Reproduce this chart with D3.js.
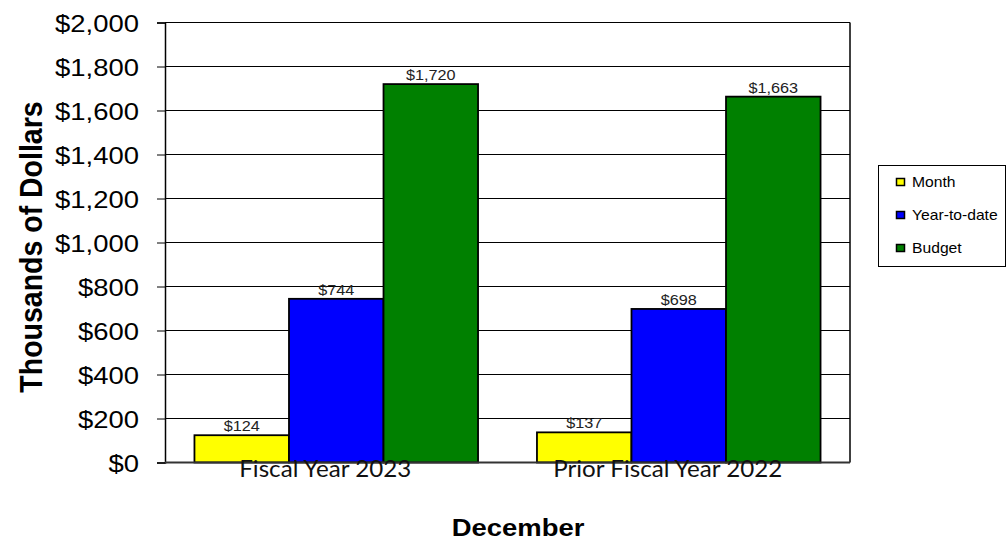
<!DOCTYPE html>
<html>
<head>
<meta charset="utf-8">
<script src="https://cdn.jsdelivr.net/npm/d3@7/dist/d3.min.js"></script>
<style>
  html, body { margin: 0; padding: 0; background: #fff; }
  svg { display: block; }
  text { fill: #000; }
</style>
</head>
<body>
<svg id="chart" width="1007" height="544"></svg>
<script>
// Revenue summary for December, in thousands of dollars
const categories = ["Fiscal Year 2023", "Prior Fiscal Year 2022"];
const seriesNames = ["Month", "Year-to-date", "Budget"];
const seriesColors = ["#FFFF00", "#0000FF", "#008000"];
const monthValues = [124, 137];
const ytdValues = [744, 698];
const budgetValues = [1720, 1663];
const tickValues = [0, 200, 400, 600, 800, 1000, 1200, 1400, 1600, 1800, 2000];
const tickLabels = ["$0", "$200", "$400", "$600", "$800", "$1,000", "$1,200", "$1,400", "$1,600", "$1,800", "$2,000"];

const seriesValues = [monthValues, ytdValues, budgetValues];
const rows = categories.map((c, i) => ({
  category: c,
  values: seriesNames.map((s, j) => ({ series: s, value: seriesValues[j][i], color: seriesColors[j] }))
}));

const svg = d3.select("#chart");
const plot = { left: 165, right: 850, top: 22.5, bottom: 462.5 };
const SX = 1.12; // wide lettering

const x0 = d3.scaleBand().domain(categories).range([plot.left, plot.right])
  .paddingInner(0.172).paddingOuter(0.086);
const x1 = d3.scaleBand().domain(seriesNames).range([0, x0.bandwidth()]);
const y = d3.scaleLinear().domain([0, 2000]).range([plot.bottom, plot.top]);

function wide(sel, tx, ty, extra, sx) {
  sel.attr("transform", `translate(${tx},${ty}) scale(${sx || SX},1)` + (extra || ""));
}

// horizontal gridlines
svg.append("g").selectAll("line").data(tickValues).join("line")
  .attr("x1", plot.left).attr("x2", plot.right)
  .attr("y1", d => y(d)).attr("y2", d => y(d))
  .attr("stroke", "#000").attr("stroke-width", 1);

// right frame edge
svg.append("line")
  .attr("x1", plot.right).attr("x2", plot.right)
  .attr("y1", plot.top).attr("y2", plot.bottom)
  .attr("stroke", "#000").attr("stroke-width", 1.5);

// bars
const groups = svg.append("g").selectAll("g").data(rows).join("g")
  .attr("transform", d => `translate(${x0(d.category)},0)`);

groups.selectAll("rect").data(d => d.values).join("rect")
  .attr("x", d => x1(d.series))
  .attr("y", d => y(d.value))
  .attr("width", x1.bandwidth())
  .attr("height", d => y(0) - y(d.value))
  .attr("fill", d => d.color)
  .attr("stroke", "#000").attr("stroke-width", 1.8);

// value labels
groups.selectAll("text.val").data(d => d.values).join("text")
  .attr("class", "val")
  .attr("text-anchor", "middle")
  .style("font-family", "'Liberation Sans', Arial, sans-serif")
  .style("font-size", "14.5px")
  .style("fill", "#222")
  .text(d => "$" + d3.format(",")(d.value))
  .each(function (d) {
    wide(d3.select(this), x1(d.series) + x1.bandwidth() / 2, y(d.value) - 4);
  });

// y axis
const yAxis = svg.append("g")
  .attr("transform", `translate(${plot.left},0)`)
  .call(d3.axisLeft(y).tickValues(tickValues).tickSize(8)
    .tickFormat((d, i) => tickLabels[i]));
yAxis.select(".domain").attr("stroke", "#000").attr("stroke-width", 1.5);
yAxis.selectAll(".tick line").attr("stroke", "#000");
yAxis.selectAll(".tick text")
  .attr("x", null).attr("dy", "0.36em")
  .style("font-family", "'Liberation Sans', Arial, sans-serif")
  .style("font-size", "24.5px")
  .attr("fill", "#000")
  .attr("transform", `translate(-26,0) scale(${SX},1)`);

// x axis baseline
svg.append("line")
  .attr("x1", plot.left).attr("x2", plot.right)
  .attr("y1", plot.bottom).attr("y2", plot.bottom)
  .attr("stroke", "#333").attr("stroke-width", 2);

// category labels
svg.append("g").selectAll("text").data(categories).join("text")
  .attr("text-anchor", "middle")
  .style("font-family", "Lato, 'Open Sans', sans-serif")
  .style("font-size", "23px")
  .style("fill", "#111")
  .text(d => d)
  .each(function (d) {
    wide(d3.select(this), x0(d) + x0.bandwidth() / 2 - 11, 476.5, "", 1.05);
  });

// axis titles
const yTitle = svg.append("text")
  .attr("text-anchor", "middle")
  .style("font-family", "'Liberation Sans', Arial, sans-serif")
  .style("font-size", "28.5px").style("font-weight", "bold")
  .text("Thousands of Dollars");
wide(yTitle, 41.5, 247, " rotate(-90)");

const xTitle = svg.append("text")
  .attr("text-anchor", "middle")
  .style("font-family", "'Liberation Sans', Arial, sans-serif")
  .style("font-size", "24.5px").style("font-weight", "bold")
  .text("December");
wide(xTitle, 518, 536);

// legend
const legend = svg.append("g");
legend.append("rect")
  .attr("x", 878.5).attr("y", 165.5).attr("width", 127).attr("height", 101)
  .attr("fill", "#fff").attr("stroke", "#000").attr("stroke-width", 1);
const items = legend.selectAll("g").data(seriesNames).join("g")
  .attr("transform", (d, i) => `translate(0,${182 + i * 33})`);
items.append("rect")
  .attr("x", 896.5).attr("y", -3.5).attr("width", 8).attr("height", 7)
  .attr("fill", (d, i) => seriesColors[i]).attr("stroke", "#000").attr("stroke-width", 1.5);
items.append("text")
  .attr("dy", "0.36em")
  .style("font-family", "'Liberation Sans', Arial, sans-serif")
  .style("font-size", "14px")
  .text(d => d)
  .each(function () { wide(d3.select(this), 912, 0); });
</script>
</body>
</html>
